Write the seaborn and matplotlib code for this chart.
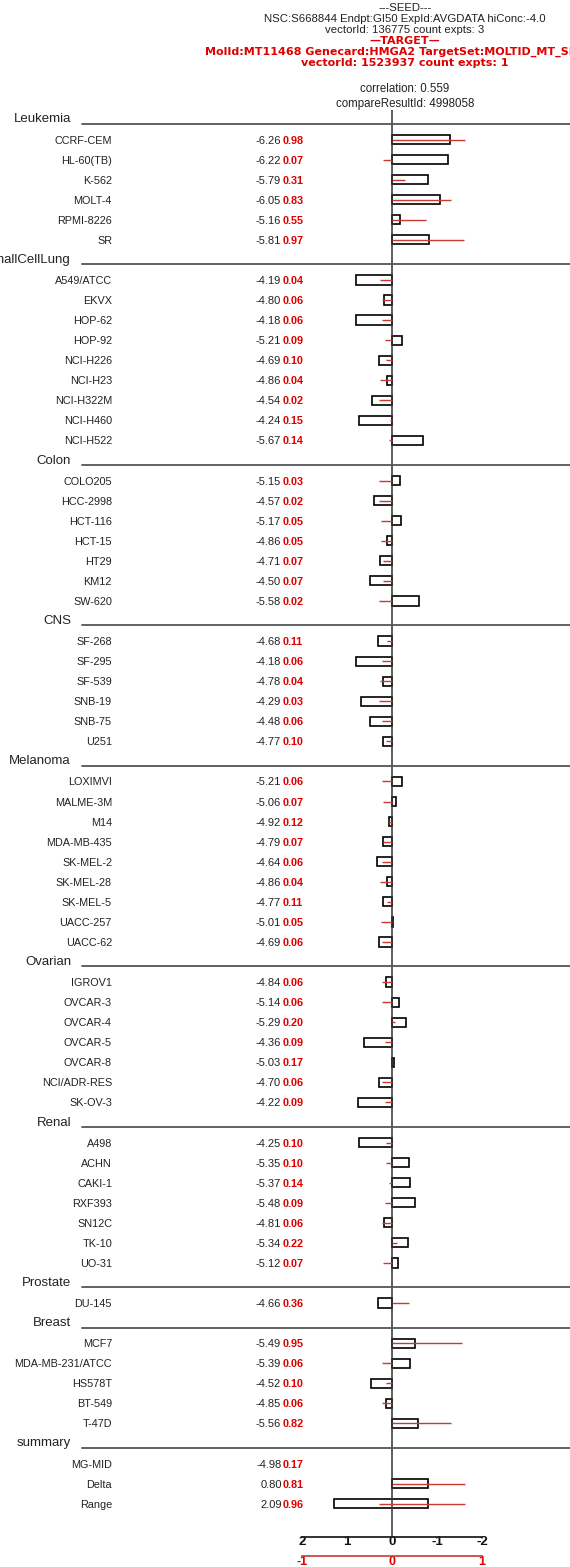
import matplotlib
matplotlib.use("Agg")
import matplotlib.pyplot as plt
import matplotlib.transforms as mtransforms
import numpy as np
import pandas as pd
import seaborn as sns

# ---------------- data ----------------
panel_names = ["Leukemia", "NonSmallCellLung", "Colon", "CNS", "Melanoma",
               "Ovarian", "Renal", "Prostate", "Breast"]
panel_sizes = [6, 9, 7, 6, 9, 7, 7, 1, 5]

cell_lines = [
    "CCRF-CEM", "HL-60(TB)", "K-562", "MOLT-4", "RPMI-8226", "SR",
    "A549/ATCC", "EKVX", "HOP-62", "HOP-92", "NCI-H226", "NCI-H23", "NCI-H322M", "NCI-H460", "NCI-H522",
    "COLO205", "HCC-2998", "HCT-116", "HCT-15", "HT29", "KM12", "SW-620",
    "SF-268", "SF-295", "SF-539", "SNB-19", "SNB-75", "U251",
    "LOXIMVI", "MALME-3M", "M14", "MDA-MB-435", "SK-MEL-2", "SK-MEL-28", "SK-MEL-5", "UACC-257", "UACC-62",
    "IGROV1", "OVCAR-3", "OVCAR-4", "OVCAR-5", "OVCAR-8", "NCI/ADR-RES", "SK-OV-3",
    "A498", "ACHN", "CAKI-1", "RXF393", "SN12C", "TK-10", "UO-31",
    "DU-145",
    "MCF7", "MDA-MB-231/ATCC", "HS578T", "BT-549", "T-47D",
]

# seed compound log GI50 values
seed_gi50 = [
    -6.26, -6.22, -5.79, -6.05, -5.16, -5.81,
    -4.19, -4.80, -4.18, -5.21, -4.69, -4.86, -4.54, -4.24, -5.67,
    -5.15, -4.57, -5.17, -4.86, -4.71, -4.50, -5.58,
    -4.68, -4.18, -4.78, -4.29, -4.48, -4.77,
    -5.21, -5.06, -4.92, -4.79, -4.64, -4.86, -4.77, -5.01, -4.69,
    -4.84, -5.14, -5.29, -4.36, -5.03, -4.70, -4.22,
    -4.25, -5.35, -5.37, -5.48, -4.81, -5.34, -5.12,
    -4.66,
    -5.49, -5.39, -4.52, -4.85, -5.56,
]

# target (molecular target) expression values
target_vals = [
    0.98, 0.07, 0.31, 0.83, 0.55, 0.97,
    0.04, 0.06, 0.06, 0.09, 0.10, 0.04, 0.02, 0.15, 0.14,
    0.03, 0.02, 0.05, 0.05, 0.07, 0.07, 0.02,
    0.11, 0.06, 0.04, 0.03, 0.06, 0.10,
    0.06, 0.07, 0.12, 0.07, 0.06, 0.04, 0.11, 0.05, 0.06,
    0.06, 0.06, 0.20, 0.09, 0.17, 0.06, 0.09,
    0.10, 0.10, 0.14, 0.09, 0.06, 0.22, 0.07,
    0.36,
    0.95, 0.06, 0.10, 0.06, 0.82,
]

summary_labels = ["MG-MID", "Delta", "Range"]
seed_summary = [-4.98, 0.80, 2.09]
target_summary = [0.17, 0.81, 0.96]

header_seed = ["---SEED---",
               "NSC:S668844 Endpt:GI50 ExpId:AVGDATA hiConc:-4.0",
               "vectorId: 136775 count expts: 3"]
header_target = ["\u2014TARGET\u2014",
                 "MolId:MT11468 Genecard:HMGA2 TargetSet:MOLTID_MT_SERIES",
                 "vectorId: 1523937 count expts: 1"]
correlation_text = "correlation: 0.559"
compare_text = "compareResultId: 4998058"

seed_ticks = [2, 1, 0, -1, -2]
target_ticks = [-1, 0, 1]

# ---------------- styling ----------------
sns.set_theme(style="white")
plt.rcParams["font.family"] = ["Liberation Sans", "DejaVu Sans"]
plt.rcParams["axes.unicode_minus"] = False

W, H = 570, 1567
ROW_PX = 20.06
TOP_PX = 119.5
ZERO_PX = 392
SEED_PX = 45      # pixels per seed unit
TARGET_PX = 90    # pixels per target unit
TXT = "#222222"
RED_TXT = "#e00000"
RED_LINE = "#c83a32"

# ---------------- row layout ----------------
rows = []          # (kind, label, row index)
bar_rows, bar_vals, red_vals = [], [], []
r = 0
k = 0
for name, size in zip(panel_names, panel_sizes):
    rows.append(("header", name, r))
    r += 1
    for j in range(size):
        rows.append(("line", cell_lines[k], r))
        bar_rows.append(r)
        bar_vals.append(seed_gi50[k] - seed_summary[0])
        red_vals.append(target_vals[k] - target_summary[0])
        k += 1
        r += 1
rows.append(("header", "summary", r))
r += 1
summary_rows = [r, r + 1, r + 2]

df = pd.DataFrame({"row": bar_rows + [summary_rows[1]],
                   "delta": bar_vals + [-seed_summary[1]]})

fig = plt.figure(figsize=(W / 100, H / 100), dpi=100)
ax = fig.add_axes([0, 0, 1, 1])

sns.barplot(data=df, x="delta", y="row", orient="h", native_scale=True,
            width=0.46, fill=False, color="black", linewidth=1.2,
            errorbar=None, ax=ax)
# range bar of the seed summary
ax.barh(summary_rows[2], seed_summary[2], left=-seed_summary[1], height=0.46,
        facecolor="none", edgecolor="black", linewidth=1.2)

ax.set_xlim(ZERO_PX / SEED_PX, -(W - ZERO_PX) / SEED_PX)
ax.set_ylim((H - TOP_PX) / ROW_PX, -TOP_PX / ROW_PX)
ax.axis("off")

# target lines on a shared-row twin scale
ax2 = ax.twiny()
ax2.set_xlim(-ZERO_PX / TARGET_PX, (W - ZERO_PX) / TARGET_PX)
ax2.set_ylim(ax.get_ylim())
ax2.axis("off")
ax2.hlines(bar_rows, 0, red_vals, color=RED_LINE, lw=1.0)
ax2.hlines(summary_rows[1], 0, target_summary[1], color=RED_LINE, lw=1.0)
t_lo = min(target_vals) - target_summary[0]
ax2.hlines(summary_rows[2], t_lo, t_lo + target_summary[2], color=RED_LINE, lw=1.0)

# zero line
axis_row = (1537 - TOP_PX) / ROW_PX
ax.vlines(0, -0.47, axis_row, color="#333333", lw=1.1)

trans = mtransforms.blended_transform_factory(ax.transAxes, ax.transData)

for kind, label, rr in rows:
    if kind == "header":
        ax.text(71 / W, rr, label, transform=trans, ha="right", va="center",
                fontsize=9.5, color=TXT)
        ax.axhline(rr + 0.22, xmin=82 / W, xmax=1, color="#555555", lw=1.3)
    else:
        ax.text(112 / W, rr + 0.05, label, transform=trans, ha="right",
                va="center", fontsize=7.8, color=TXT)

for i, rr in enumerate(bar_rows):
    ax.text(281 / W, rr + 0.05, f"{seed_gi50[i]:.2f}", transform=trans,
            ha="right", va="center", fontsize=8, color=TXT)
    ax.text(283 / W, rr + 0.05, f"{target_vals[i]:.2f}", transform=trans,
            ha="left", va="center", fontsize=7.8, color=RED_TXT, fontweight="bold")

for lab, rr, sv, tv in zip(summary_labels, summary_rows, seed_summary, target_summary):
    ax.text(112 / W, rr + 0.05, lab, transform=trans, ha="right", va="center",
            fontsize=7.8, color=TXT)
    ax.text(282 / W, rr + 0.05, f"{sv:.2f}", transform=trans, ha="right",
            va="center", fontsize=8, color=TXT)
    ax.text(282.5 / W, rr + 0.05, f"{tv:.2f}", transform=trans, ha="left",
            va="center", fontsize=7.8, color=RED_TXT, fontweight="bold")

# ---------------- header block ----------------
cx = 405 / W
for txt, y in zip(header_seed, [8, 19, 30]):
    fig.text(cx, 1 - y / H, txt, ha="center", va="center", fontsize=8.2, color=TXT)
for txt, y in zip(header_target, [41, 52, 63]):
    fig.text(cx, 1 - y / H, txt, ha="center", va="center", fontsize=8.0,
             color=RED_TXT, fontweight="bold", family="DejaVu Sans")
fig.text(cx, 1 - 89 / H, correlation_text, ha="center", va="center", fontsize=8.3, color=TXT)
fig.text(cx, 1 - 104 / H, compare_text, ha="center", va="center", fontsize=8.3, color=TXT)

# ---------------- bottom scales ----------------
axb = fig.add_axes([302 / W, 1 - 1537 / H, 180 / W, 0.02])
axb.set_xlim(2, -2)
axb.set_ylim(0, 1)
axb.patch.set_alpha(0)
for s in ["top", "left", "right"]:
    axb.spines[s].set_visible(False)
axb.spines["bottom"].set_color("#222222")
axb.spines["bottom"].set_linewidth(1.3)
axb.set_yticks([])
axb.set_xticks(seed_ticks)
axb.set_xticklabels([str(t) for t in seed_ticks], fontweight="bold", fontsize=9.5, color="#111111")
axb.tick_params(axis="x", direction="in", length=10, width=1.3, color="#222222", pad=-1)

axr = fig.add_axes([302 / W, 1 - 1556 / H, 180 / W, 0.01])
axr.set_xlim(-1, 1)
axr.set_ylim(0, 1)
axr.patch.set_alpha(0)
for s in ["top", "left", "right"]:
    axr.spines[s].set_visible(False)
axr.spines["bottom"].set_color(RED_LINE)
axr.spines["bottom"].set_linewidth(1.2)
axr.set_yticks([])
axr.set_xticks(target_ticks)
axr.set_xticklabels([str(t) for t in target_ticks], fontweight="bold", fontsize=9, color=RED_TXT)
axr.tick_params(axis="x", direction="in", length=6, width=1.2, color=RED_LINE, pad=0)

fig.savefig("out.png", dpi=100)
